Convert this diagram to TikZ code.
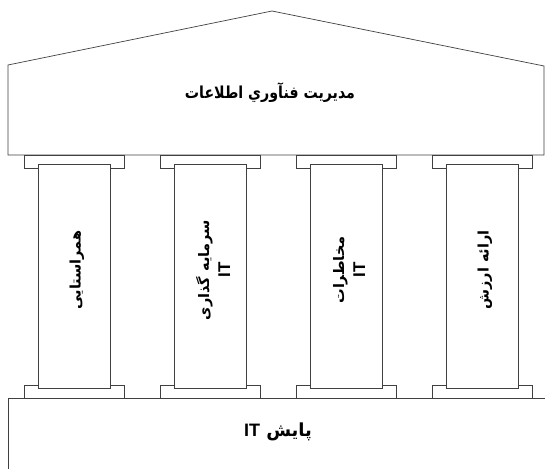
\documentclass[tikz,border=0pt]{standalone}
\usepackage{fontspec}
\newfontfamily\arabicfont[Script=Arabic]{DejaVu Sans}
\newfontfamily\latinfont{Liberation Sans}
\TeXXeTstate=1
\usetikzlibrary{positioning}

\newcommand{\itmark}[1][17]{{\latinfont\fontsize{#1}{#1}\selectfont IT}}

\tikzset{
  part/.style = {draw = black!75, line width = 0.7pt, fill = white},
  rooftext/.style = {xscale = 0.86, font = \arabicfont\bfseries\fontsize{16.5}{18}\selectfont},
  basetext/.style = {font = \arabicfont\bfseries\fontsize{18}{20}\selectfont},
  pillartext/.style = {rotate = 90, align = center, font = \arabicfont\bfseries\fontsize{14.5}{21}\selectfont}
}

\begin{document}
\begin{tikzpicture}[x = 1pt, y = -1pt]
\useasboundingbox (0,0) rectangle (545,468);
\draw[part] (8,155) -- (8,65) -- (272,11) -- (544,66) -- (544,155) -- cycle;
\node[rooftext] (roof) at (270,93) {\beginR مديريت فنآوري اطلاعات\endR};

\draw[part] (560,398) -- (8,398) -- (8,480);
\node[basetext] (base) at (278,432) {\beginR پایش \itmark[18]\endR};

\foreach \x/\txt [count = \i] in {74/{\beginR همراستایی\endR}, 210/{\beginR سرمایه گذاری\endR\\\itmark}, 346/{\beginR مخاطرات\endR\\\itmark}, 482/{\beginR ارائه ارزش\endR}}{
  \draw[part] (\x-50,155) rectangle (\x+50,168);
  \draw[part] (\x-50,385) rectangle (\x+50,398);
  \draw[part] (\x-36,164) rectangle (\x+36,388);
  \node[pillartext] (pillar\i) at (\x+3,270) {\txt};
}
\end{tikzpicture}
\end{document}
